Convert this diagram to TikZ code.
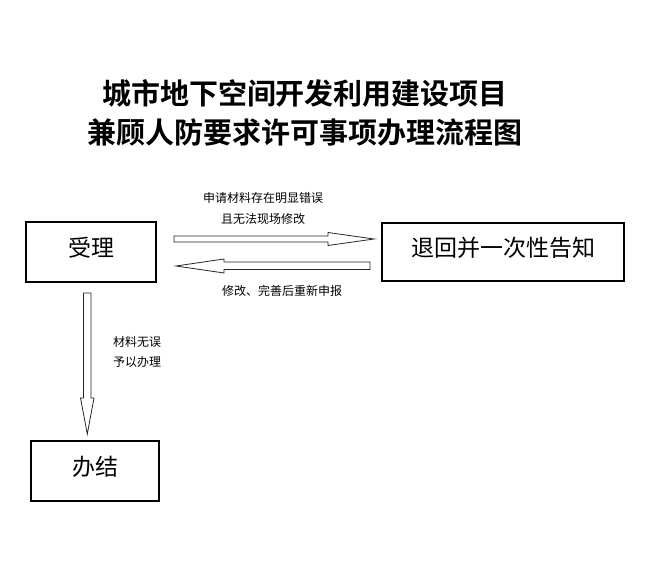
\documentclass[tikz,border=0pt]{standalone}
\usepackage{fontspec}
\setmainfont{Noto Sans CJK SC}
\newfontfamily\cjk{Noto Sans CJK SC}
\newfontfamily\cjkbold{Noto Sans CJK SC Bold}
\begin{document}
\begin{tikzpicture}[x=1pt,y=-1pt,
  box/.style={draw=black,line width=1.3pt,inner sep=0pt,text height=19pt,text depth=10pt,font=\cjk\fontsize{23}{26}\selectfont},
  lbl/.style={inner sep=0pt,font=\cjk\fontsize{12}{14}\selectfont},
  ttl/.style={inner sep=0pt,font=\cjkbold\fontsize{29}{32}\selectfont},
  blockarrow/.style={draw=black!85,line width=0.8pt,fill=white,line join=miter}]
\useasboundingbox (0,0) rectangle (654,569);
\node[ttl] (t1) at (305,93) {城市地下空间开发利用建设项目};
\node[ttl] (t2) at (305,133) {兼顾人防要求许可事项办理流程图};
\node[box,minimum width=130pt,minimum height=60pt] (accept) at (91,252) {受理};
\node[box,minimum width=242pt,minimum height=58pt] (ret) at (503,252) {退回并一次性告知};
\node[box,minimum width=128pt,minimum height=60pt] (done) at (95,471) {办结};
\node[lbl] (l1) at (263,198) {申请材料存在明显错误};
\node[lbl] (l2) at (263,219) {且无法现场修改};
\node[lbl] (l3) at (282,291) {修改、完善后重新申报};
\node[lbl,anchor=west] (l4) at (113,342) {材料无误};
\node[lbl,anchor=west] (l5) at (113,362) {予以办理};
% right block arrow
\draw[blockarrow] (174,236) -- (328,236) -- (328,232.5) -- (374,239) -- (328,245.5) -- (328,242) -- (174,242) -- cycle;
% left block arrow
\draw[blockarrow] (370,262) -- (224,262) -- (224,259) -- (176,266) -- (224,273) -- (224,269.5) -- (370,269.5) -- cycle;
% down block arrow
\draw[blockarrow] (83.5,293) -- (91,293) -- (91,398) -- (94,398) -- (87.3,434) -- (80.5,398) -- (83.5,398) -- cycle;
\end{tikzpicture}
\end{document}
